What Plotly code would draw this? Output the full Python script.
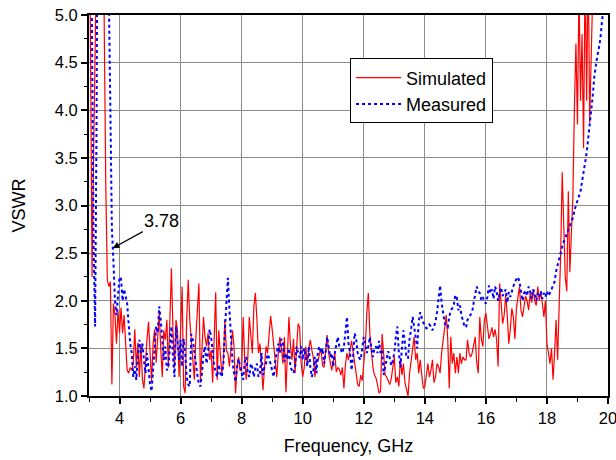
import numpy as np
import plotly.graph_objects as go

# Sampling grid: 3.00 ... 20.00 GHz in 0.05 GHz steps
F_START = 3.0
F_STEP = 0.05

# Simulated VSWR, one list per GHz (20 samples each)
sim_3 = [7.0, 4.0, 2.25, 3.5, 6.0, 7.5, 8.0, 8.0, 7.5, 6.5, 4.8, 3.2, 2.22, 2.15, 2.2, 1.12, 1.97, 1.85, 1.55, 1.9]
sim_4 = [1.66, 1.93, 1.66, 1.85, 1.55, 1.27, 1.24, 1.3, 1.27, 1.34, 1.7, 1.3, 1.56, 1.2, 1.55, 1.17, 1.08, 1.4, 1.6, 1.78]
sim_5 = [1.4, 1.15, 1.55, 1.7, 1.35, 1.69, 1.87, 1.5, 1.2, 1.69, 1.59, 1.8, 1.3, 1.8, 2.34, 1.69, 1.3, 1.8, 1.69, 1.2]
sim_6 = [1.8, 2.15, 1.1, 1.03, 1.8, 2.22, 1.8, 1.55, 1.38, 1.17, 1.62, 1.9, 2.18, 1.14, 1.52, 1.83, 1.62, 1.52, 1.66, 1.38]
sim_7 = [1.48, 1.14, 1.6, 2.09, 1.17, 1.69, 1.45, 1.24, 1.34, 1.8, 1.48, 1.45, 1.31, 1.5, 1.69, 1.52, 1.03, 1.31, 1.41, 1.27]
sim_8 = [1.27, 1.83, 1.38, 1.17, 1.38, 1.83, 1.59, 1.45, 1.94, 2.08, 1.8, 1.45, 1.55, 1.27, 1.06, 1.31, 1.52, 1.45, 1.66, 1.84]
sim_9 = [1.7, 1.52, 1.38, 1.2, 1.45, 1.62, 1.52, 1.34, 1.62, 1.04, 1.45, 1.83, 1.52, 1.38, 1.6, 1.24, 1.5, 1.76, 1.72, 1.34]
sim_10 = [1.2, 1.3, 1.52, 1.34, 1.5, 1.59, 1.48, 1.4, 1.2, 1.38, 1.36, 1.45, 1.48, 1.32, 1.3, 1.5, 1.64, 1.45, 1.34, 1.27]
sim_11 = [1.36, 1.45, 1.25, 1.3, 1.28, 1.22, 1.3, 1.08, 1.33, 1.45, 1.38, 1.5, 1.58, 1.47, 1.35, 1.2, 1.12, 1.1, 1.22, 1.16]
sim_12 = [1.34, 1.52, 1.87, 2.08, 1.65, 1.45, 1.3, 1.22, 1.19, 1.12, 1.03, 1.05, 1.65, 1.45, 1.22, 1.2, 1.15, 1.12, 1.18, 1.3]
sim_13 = [1.41, 1.14, 1.2, 1.1, 1.4, 1.22, 1.34, 1.14, 1.05, 1.0, 1.24, 1.38, 1.52, 1.62, 1.38, 1.45, 1.24, 1.38, 1.22, 1.08]
sim_14 = [1.1, 1.24, 1.34, 1.2, 1.27, 1.38, 1.14, 1.2, 1.34, 1.31, 1.24, 1.45, 1.6, 1.76, 1.85, 1.6, 1.08, 1.62, 1.34, 1.45]
sim_15 = [1.24, 1.41, 1.24, 1.45, 1.34, 1.41, 1.38, 1.38, 1.59, 1.45, 1.41, 1.45, 1.52, 1.62, 1.35, 1.24, 1.83, 1.6, 1.52, 1.8]
sim_16 = [1.87, 1.7, 1.6, 1.65, 1.72, 1.62, 1.7, 1.6, 1.31, 2.18, 1.94, 1.76, 1.85, 2.06, 1.85, 1.55, 1.7, 1.92, 1.83, 1.6]
sim_17 = [1.92, 2.05, 2.15, 1.9, 1.83, 1.94, 2.05, 2.0, 1.9, 2.08, 1.98, 2.12, 2.0, 1.95, 2.15, 2.0, 2.1, 1.97, 1.83, 2.0]
sim_18 = [1.55, 1.45, 1.34, 1.5, 1.17, 1.45, 1.8, 1.38, 1.83, 2.5, 3.35, 2.7, 2.25, 2.1, 3.15, 2.3, 2.7, 3.1, 4.03, 4.7]
sim_19 = [3.85, 5.3, 4.1, 4.8, 3.6, 5.5, 4.1, 5.6, 3.87, 6.0, 6.5, 7.0, 7.5, 8.0, 8.0, 8.0, 8.5, 9.0, 9.0, 9.0]
sim_20 = [9.0]

# Measured VSWR on the same grid
meas_3 = [9.0, 7.0, 5.0, 2.6, 1.73, 4.0, 8.0, 9.0, 9.0, 9.0, 9.0, 9.0, 8.0, 5.2, 4.0, 2.75, 2.42, 2.0, 1.85, 2.1]
meas_4 = [2.25, 2.23, 2.0, 2.12, 2.05, 1.97, 1.75, 1.55, 1.45, 1.2, 1.31, 1.17, 1.41, 1.59, 1.45, 1.55, 1.38, 1.24, 1.45, 1.31]
meas_5 = [1.12, 1.05, 1.27, 1.52, 1.73, 1.66, 1.94, 1.8, 1.62, 1.38, 1.52, 1.27, 1.3, 1.55, 1.73, 1.41, 1.2, 1.73, 1.52, 1.38]
meas_6 = [1.59, 1.31, 1.6, 1.45, 1.2, 1.12, 1.1, 1.65, 1.59, 1.45, 1.34, 1.22, 1.12, 1.1, 1.24, 1.44, 1.52, 1.34, 1.45, 1.7]
meas_7 = [1.62, 1.45, 1.32, 1.25, 1.2, 1.33, 1.24, 1.2, 1.34, 1.69, 1.97, 2.24, 1.9, 1.55, 1.36, 1.24, 1.15, 1.3, 1.39, 1.31]
meas_8 = [1.24, 1.17, 1.36, 1.41, 1.25, 1.2, 1.34, 1.3, 1.2, 1.3, 1.34, 1.2, 1.24, 1.45, 1.22, 1.31, 1.34, 1.44, 1.4, 1.33]
meas_9 = [1.25, 1.2, 1.36, 1.45, 1.55, 1.45, 1.6, 1.57, 1.36, 1.45, 1.38, 1.5, 1.3, 1.27, 1.24, 1.3, 1.52, 1.45, 1.4, 1.52]
meas_10 = [1.38, 1.5, 1.42, 1.31, 1.52, 1.3, 1.2, 1.27, 1.41, 1.24, 1.48, 1.52, 1.45, 1.5, 1.34, 1.45, 1.62, 1.52, 1.41, 1.45]
meas_11 = [1.31, 1.45, 1.55, 1.62, 1.52, 1.48, 1.45, 1.52, 1.69, 1.83, 1.55, 1.45, 1.27, 1.41, 1.66, 1.6, 1.45, 1.4, 1.38, 1.48]
meas_12 = [1.62, 1.55, 1.45, 1.52, 1.62, 1.5, 1.41, 1.5, 1.52, 1.45, 1.58, 1.45, 1.48, 1.22, 1.31, 1.4, 1.47, 1.4, 1.32, 1.37]
meas_13 = [1.45, 1.62, 1.73, 1.45, 1.3, 1.5, 1.69, 1.55, 1.4, 1.4, 1.6, 1.7, 1.83, 1.73, 1.62, 1.5, 1.78, 1.88, 1.82, 1.77]
meas_14 = [1.75, 1.71, 1.72, 1.75, 1.73, 1.69, 1.73, 1.78, 1.88, 2.05, 2.16, 1.98, 1.86, 1.77, 1.73, 1.72, 1.83, 1.9, 1.92, 1.96]
meas_15 = [2.06, 2.03, 1.9, 1.95, 1.85, 1.78, 1.73, 1.72, 1.8, 1.83, 1.85, 1.88, 1.98, 2.08, 2.15, 2.1, 2.08, 2.01, 2.04, 1.99]
meas_16 = [1.97, 2.04, 2.16, 2.08, 2.12, 2.02, 2.15, 2.1, 2.0, 2.08, 2.14, 2.05, 2.09, 2.12, 1.98, 2.09, 2.04, 2.11, 2.15, 2.2]
meas_17 = [2.22, 2.25, 2.2, 2.1, 2.0, 2.08, 2.11, 2.05, 2.15, 2.1, 2.02, 2.12, 2.08, 2.0, 2.08, 2.04, 2.1, 2.02, 2.08, 2.04]
meas_18 = [2.1, 2.05, 2.08, 2.12, 2.16, 2.2, 2.31, 2.38, 2.46, 2.52, 2.57, 2.62, 2.66, 2.7, 2.74, 2.78, 2.82, 2.87, 2.95, 3.0]
meas_19 = [3.05, 3.08, 3.15, 3.25, 3.35, 3.43, 3.55, 3.7, 3.83, 4.0, 4.15, 4.35, 4.48, 4.57, 4.65, 4.75, 4.92, 5.05, 5.2, 5.35]
meas_20 = [5.5]

simulated = (sim_3 + sim_4 + sim_5 + sim_6 + sim_7 + sim_8 + sim_9 + sim_10 + sim_11
             + sim_12 + sim_13 + sim_14 + sim_15 + sim_16 + sim_17 + sim_18 + sim_19 + sim_20)
measured = (meas_3 + meas_4 + meas_5 + meas_6 + meas_7 + meas_8 + meas_9 + meas_10 + meas_11
            + meas_12 + meas_13 + meas_14 + meas_15 + meas_16 + meas_17 + meas_18 + meas_19 + meas_20)
freq = np.round(F_START + F_STEP * np.arange(len(simulated)), 2)

# Marked lower band edge of the measured curve
marker_freq = 3.78
marker_vswr = float(np.interp(marker_freq, freq, measured))

x_ticks = [4, 6, 8, 10, 12, 14, 16, 18, 20]
y_ticks = [1.0, 1.5, 2.0, 2.5, 3.0, 3.5, 4.0, 4.5, 5.0]

FONT = "Liberation Sans, Arial, sans-serif"

fig = go.Figure()
fig.add_trace(go.Scatter(
    x=freq, y=simulated, mode="lines", name="Simulated",
    line=dict(color="#ff0000", width=1.2),
))
fig.add_trace(go.Scatter(
    x=freq, y=measured, mode="lines", name="Measured",
    line=dict(color="#0000ff", width=2, dash="dot"),
))

fig.add_annotation(
    x=marker_freq, y=marker_vswr, xref="x", yref="y",
    text=f"{marker_freq:.2f}", showarrow=True,
    ax=49, ay=-27, arrowhead=2, arrowsize=1.1, arrowwidth=1.2,
    arrowcolor="black", font=dict(family=FONT, size=18, color="black"),
)

axis_common = dict(
    showline=True, linecolor="black", linewidth=2, mirror=True,
    ticks="outside", ticklen=6, tickwidth=1.5, tickcolor="black",
    showgrid=True, gridcolor="#8c8c8c", gridwidth=1.3,
    zeroline=False, automargin=False, ticklabeloverflow="allow",
    tickfont=dict(family=FONT, size=16.5, color="black"),
)

fig.update_xaxes(
    range=[3, 20], tickvals=x_ticks,
    minor=dict(dtick=1, tick0=3, ticks="outside", ticklen=3.5, tickcolor="black", tickwidth=1.2, showgrid=False),
    title=dict(text="Frequency, GHz", font=dict(family=FONT, size=18, color="black"), standoff=14),
    **axis_common,
)
fig.update_yaxes(
    range=[1, 5], tickvals=y_ticks, tickformat=".1f",
    minor=dict(dtick=0.25, tick0=1, ticks="outside", ticklen=3.5, tickcolor="black", tickwidth=1.2, showgrid=False),
    title=dict(text="VSWR", font=dict(family=FONT, size=18, color="black"), standoff=24),
    **axis_common,
)

fig.update_layout(
    width=616, height=460,
    margin=dict(l=89, r=8, t=15, b=64),
    paper_bgcolor="white", plot_bgcolor="white",
    showlegend=True,
    legend=dict(
        x=0.503, y=0.886, xanchor="left", yanchor="top",
        bgcolor="white", bordercolor="black", borderwidth=1,
        font=dict(family=FONT, size=18, color="black"),
        itemwidth=45, tracegroupgap=0,
    ),
)

fig.write_html("out.html")
